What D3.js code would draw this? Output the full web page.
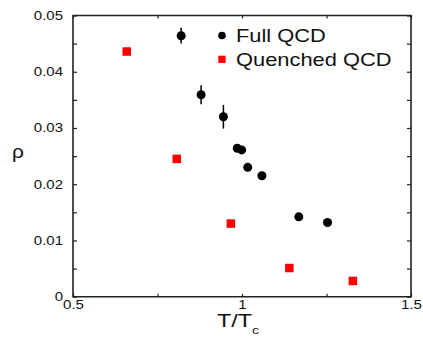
<!DOCTYPE html>
<html>
<head>
<meta charset="utf-8">
<script src="https://cdn.jsdelivr.net/npm/d3@7"></script>
<style>
  body { margin: 0; background: #fff; }
  svg { display: block; }
  text { font-family: "Liberation Sans", Arial, sans-serif; fill: #111; }
</style>
</head>
<body>
<svg></svg>
<script>
// Full QCD (black circles with error bars)
const fullT   = [0.82, 0.879, 0.945, 0.986, 0.999, 1.017, 1.059, 1.168, 1.253];
const fullRho = [0.0464, 0.0359, 0.0320, 0.0264, 0.0261, 0.0230, 0.0215, 0.0142, 0.0132];
const fullErr = [0.0014, 0.0017, 0.0021, 0.0004, 0.0004, 0.0004, 0.0004, 0.0004, 0.0004];

// Quenched QCD (red squares)
const quenchT   = [0.659, 0.807, 0.967, 1.14, 1.328];
const quenchRho = [0.0436, 0.0245, 0.0130, 0.0051, 0.0028];

const xTicks = [0.5, 1, 1.5];
const xMinor = [0.75, 1.25];
const yTicks = [0, 0.01, 0.02, 0.03, 0.04, 0.05];
const yMinor = [0.005, 0.015, 0.025, 0.035, 0.045];

window.onload = () => {
  const width = 423, height = 339;
  const left = 73, right = 411, top = 15.5, bottom = 296.7;

  const svg = d3.select('svg').attr('width', width).attr('height', height);

  const x = d3.scaleLinear().domain([0.5, 1.5]).range([left, right]);
  const y = d3.scaleLinear().domain([0, 0.05]).range([bottom, top]);

  const fmtY = d => d === 0 ? '0' : d3.format('.2f')(d);
  const allX = xTicks.concat(xMinor);
  const allY = yTicks.concat(yMinor);

  const axisStyle = g => {
    g.select('.domain').remove();
    g.selectAll('line').attr('stroke', '#222').attr('stroke-width', 1.2);
    g.selectAll('text').style('font-size', '12px');
  };

  // left axis
  svg.append('g')
      .attr('transform', 'translate(' + left + ',0)')
      .call(d3.axisLeft(y).tickValues(allY).tickSize(-4).tickPadding(8)
        .tickFormat(d => yTicks.includes(d) ? fmtY(d) : ''))
      .call(axisStyle)
      .selectAll('text').attr('transform', 'scale(1.25,1)');

  // right axis
  svg.append('g')
      .attr('transform', 'translate(' + right + ',0)')
      .call(d3.axisRight(y).tickValues(allY).tickSize(-4).tickFormat(''))
      .call(axisStyle);

  // bottom axis
  svg.append('g')
      .attr('transform', 'translate(0,' + bottom + ')')
      .call(d3.axisBottom(x).tickValues(allX).tickSize(-3).tickPadding(4)
        .tickFormat(d => xTicks.includes(d) ? String(d) : ''))
      .call(axisStyle)
      .selectAll('text').attr('transform', 'scale(1.25,1)')
      .attr('x', 0);

  // top axis
  svg.append('g')
      .attr('transform', 'translate(0,' + top + ')')
      .call(d3.axisTop(x).tickValues(allX).tickSize(-3).tickFormat(''))
      .call(axisStyle);

  // frame
  svg.append('path')
      .attr('d', 'M' + left + ',' + top + 'V' + bottom + 'H' + right + 'V' + top + 'H' + left + 'Z')
      .attr('fill', 'none').attr('stroke', '#222').attr('stroke-width', 1.6);

  // error bars
  const full = fullT.map((t, i) => ({t: t, r: fullRho[i], e: fullErr[i]}));
  svg.selectAll('.err').data(full).enter().append('line')
      .attr('class', 'err')
      .attr('x1', d => x(d.t)).attr('x2', d => x(d.t))
      .attr('y1', d => y(d.r - d.e)).attr('y2', d => y(d.r + d.e))
      .attr('stroke', '#000').attr('stroke-width', 1.5);

  svg.selectAll('.full').data(full).enter().append('circle')
      .attr('class', 'full')
      .attr('cx', d => x(d.t)).attr('cy', d => y(d.r)).attr('r', 4.5)
      .attr('fill', '#000');

  const sq = 8.5;
  svg.selectAll('.quench').data(quenchT.map((t, i) => ({t: t, r: quenchRho[i]}))).enter().append('rect')
      .attr('class', 'quench')
      .attr('x', d => x(d.t) - sq / 2).attr('y', d => y(d.r) - sq / 2)
      .attr('width', sq).attr('height', sq)
      .attr('fill', '#f00');

  // legend
  const leg = svg.append('g');
  leg.append('circle').attr('cx', 222).attr('cy', 35.5).attr('r', 3.8).attr('fill', '#000');
  leg.append('rect').attr('x', 218.3).attr('y', 55.7).attr('width', 7.3).attr('height', 7.3).attr('fill', '#f00');
  leg.append('text').attr('transform', 'translate(236,41.5) scale(1.25,1)')
      .style('font-size', '17.5px').text('Full QCD');
  leg.append('text').attr('transform', 'translate(236,65.5) scale(1.25,1)')
      .style('font-size', '17.5px').text('Quenched QCD');

  // axis titles
  const xt = svg.append('text').attr('transform', 'translate(217,327) scale(1.3,1)')
      .style('font-size', '18px');
  xt.append('tspan').text('T/T');
  xt.append('tspan').attr('dy', 7).style('font-size', '11px').text('c');

  svg.append('text').attr('transform', 'translate(12,158) scale(1.1,1)')
      .style('font-size', '19px').text('ρ');
};
</script>
</body>
</html>
